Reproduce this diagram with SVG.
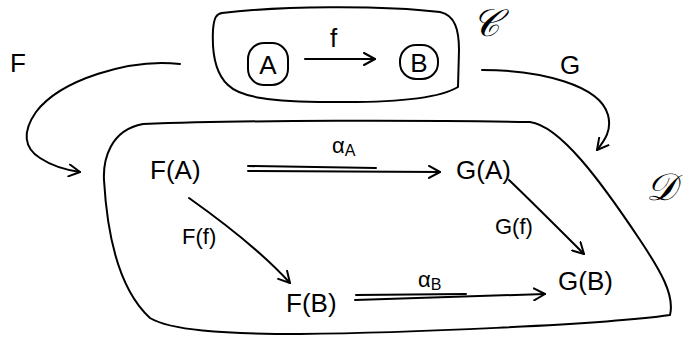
<svg xmlns="http://www.w3.org/2000/svg" width="683" height="338" viewBox="0 0 683 338">
<style>
.ln{fill:none;stroke:#000;stroke-width:2;stroke-linecap:round;stroke-linejoin:round}
.tx{font-family:"Liberation Sans","DejaVu Sans",sans-serif;font-size:26px;fill:#000}
.lb{font-size:22px}
.sc{font-family:"DejaVu Serif","Liberation Serif",serif;font-size:38px;fill:#000}
.sm{font-size:16px}
</style>
<defs>
<marker id="ah" viewBox="0 0 14 14" refX="12" refY="7" markerWidth="14" markerHeight="14" markerUnits="userSpaceOnUse" orient="auto">
<path d="M1,1 L12,7 L1,13" fill="none" stroke="#000" stroke-width="2" stroke-linecap="round" stroke-linejoin="round"/>
</marker>
</defs>
<rect width="683" height="338" fill="#fff"/>
<g id="catC">
<path class="ln" d="M222,13 C280,6 380,5 440,12 C455,15 459,30 459,50 L458,87 C440,98 400,103 330,102 C270,102 240,97 228,85 C214,72 212,50 213,30 C214,18 216,14 222,13 Z"/>
<text class="sc" x="472" y="36" font-style="italic">𝒞</text>
</g>
<g id="nodeA">
<rect class="ln" x="248" y="43" width="40" height="42" rx="16"/>
<text class="tx" x="268" y="74" text-anchor="middle">A</text>
</g>
<g id="nodeB">
<rect class="ln" x="400" y="45" width="38" height="34" rx="16"/>
<text class="tx" x="419" y="72" text-anchor="middle">B</text>
</g>
<g id="catD">
<path class="ln" d="M143,124 C250,120 420,120 530,122 C560,126 600,180 640,240 C660,270 675,295 670,315 C600,325 400,333 300,334 C220,334 170,330 150,318 C125,295 108,250 104,180 C103,160 110,130 143,124 Z"/>
<text class="sc" x="646" y="200" font-style="italic">𝒟</text>
</g>
<g id="nodeFA"><text class="tx" x="150" y="179">F(A)</text></g>
<g id="nodeGA"><text class="tx" x="456" y="179">G(A)</text></g>
<g id="nodeFB"><text class="tx" x="286" y="312">F(B)</text></g>
<g id="nodeGB"><text class="tx" x="558" y="290">G(B)</text></g>
<g id="labels">
<text class="tx" x="10" y="72">F</text>
<text class="tx" x="560" y="74">G</text>
<text class="tx" x="330" y="47">f</text>
<text class="tx lb" x="332" y="153">α<tspan class="sm" dy="3">A</tspan></text>
<text class="tx lb" x="418" y="287">α<tspan class="sm" dy="3">B</tspan></text>
<text class="tx lb" x="182" y="244">F(f)</text>
<text class="tx lb" x="495" y="234">G(f)</text>
</g>
<g id="connectors">
<path class="ln" d="M305,59 L375,59" marker-end="url(#ah)"/>
<path class="ln" d="M180,64 C130,58 60,80 36,112 C22,132 24,148 40,158 C52,166 66,170 80,172" marker-end="url(#ah)"/>
<path class="ln" d="M482,70 C540,70 600,85 608,115 C612,130 605,140 597,150" marker-end="url(#ah)"/>
<path class="ln" d="M248,166 L376,168"/>
<path class="ln" d="M248,171 L440,172" marker-end="url(#ah)"/>
<path class="ln" d="M189,198 C220,220 260,250 290,283" marker-end="url(#ah)"/>
<path class="ln" d="M509,180 C530,200 560,230 584,254" marker-end="url(#ah)"/>
<path class="ln" d="M356,295 L466,294"/>
<path class="ln" d="M355,300 L545,294" marker-end="url(#ah)"/>
</g>
</svg>
